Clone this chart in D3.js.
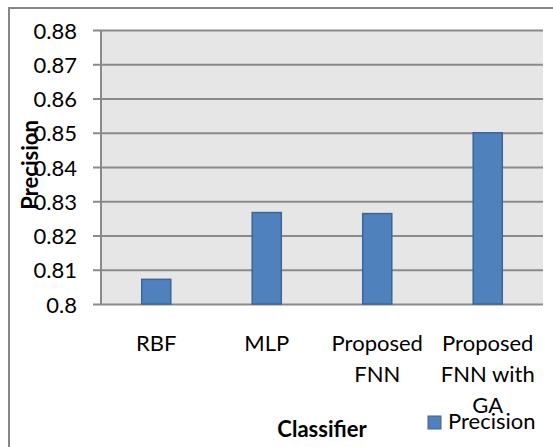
<!DOCTYPE html>
<html>
<head>
<meta charset="utf-8">
<script src="https://cdn.jsdelivr.net/npm/d3@7"></script>
<style>
  html, body { margin: 0; padding: 0; background: #fff; }
  svg { display: block; }
  text { font-family: Lato, "Liberation Sans", Arial, sans-serif; fill: #000; }
</style>
</head>
<body>
<svg id="chart" width="553" height="447"></svg>
<script>
// Classifier precision values
const categories = [["RBF"], ["MLP"], ["Proposed", "FNN"], ["Proposed", "FNN with", "GA"]];
const precision = [0.8072, 0.8267, 0.8264, 0.85];
const yTicks = [0.8, 0.81, 0.82, 0.83, 0.84, 0.85, 0.86, 0.87, 0.88];
const seriesName = "Precision";
const xTitle = "Classifier";
const yTitle = "Precision";

const FONT = "Lato, 'Liberation Sans', Arial, sans-serif";
const svg = d3.select("#chart");
const plot = { left: 101, right: 543, top: 30, bottom: 304 };

// Chart-area frame
svg.append("rect")
  .attr("x", 9).attr("y", 8)
  .attr("width", 600).attr("height", 500)
  .attr("fill", "#fff")
  .attr("stroke", "#868686").attr("stroke-width", 2);

const x = d3.scaleBand()
  .domain(d3.range(categories.length))
  .range([plot.left, plot.right])
  .padding(0);

const y = d3.scaleLinear()
  .domain([0.8, 0.88])
  .range([plot.bottom, plot.top]);

// Plot area background
svg.append("rect")
  .attr("x", plot.left).attr("y", plot.top)
  .attr("width", plot.right - plot.left)
  .attr("height", plot.bottom - plot.top)
  .attr("fill", "#e6e6e6");

// Gridlines with tick stubs, via the axis generator
const yAxis = d3.axisLeft(y)
  .tickValues(yTicks)
  .tickSize(-(plot.right - plot.left))
  .tickFormat(d3.format(".2~f"));

const gy = svg.append("g")
  .attr("transform", `translate(${plot.left},0)`)
  .call(yAxis);
gy.select(".domain").remove();
gy.selectAll(".tick line")
  .attr("x1", -8)
  .attr("stroke", "#8a8a8a")
  .attr("stroke-width", 2);
gy.selectAll(".tick text")
  .attr("x", -24)
  .attr("dy", "0.37em")
  .style("font-size", "22px")
  .style("font-family", FONT)
  .attr("fill", "#000");

// Vertical axis line
svg.append("line")
  .attr("x1", plot.left).attr("x2", plot.left)
  .attr("y1", plot.top).attr("y2", plot.bottom)
  .attr("stroke", "#8a8a8a").attr("stroke-width", 2);

// Bars
const barW = x.bandwidth() / 3.8;
svg.append("g").selectAll("rect")
  .data(precision)
  .join("rect")
  .attr("x", (d, i) => x(i) + (x.bandwidth() - barW) / 2)
  .attr("y", d => y(d))
  .attr("width", barW)
  .attr("height", d => y(0.8) - y(d))
  .attr("fill", "#4f81bd")
  .attr("stroke", "#3b6696")
  .attr("stroke-width", 1.5);

// Category labels
const lbl = svg.append("g").selectAll("text")
  .data(categories)
  .join("text")
  .attr("text-anchor", "middle")
  .style("font-size", "22px")
  .attr("transform", (d, i) => `translate(${x(i) + x.bandwidth() / 2},350.5)`);
lbl.selectAll("tspan")
  .data(d => d)
  .join("tspan")
  .attr("x", 0)
  .attr("y", (d, j) => j * 31)
  .text(d => d);

// Axis titles
svg.append("text")
  .attr("x", 322).attr("y", 437)
  .attr("text-anchor", "middle")
  .style("font-size", "22px").style("font-weight", "bold")
  .text(xTitle);

svg.append("text")
  .attr("transform", "translate(38,165) rotate(-90)")
  .attr("text-anchor", "middle")
  .style("font-size", "22px").style("font-weight", "bold")
  .text(yTitle);

// Legend
const lg = svg.append("g").attr("transform", "translate(428,416)");
lg.append("rect")
  .attr("width", 13).attr("height", 13)
  .attr("fill", "#4f81bd")
  .attr("stroke", "#3b6696").attr("stroke-width", 1);
lg.append("text")
  .attr("x", 20).attr("y", 13)
  .style("font-size", "22px")
  .text(seriesName);
</script>
</body>
</html>
